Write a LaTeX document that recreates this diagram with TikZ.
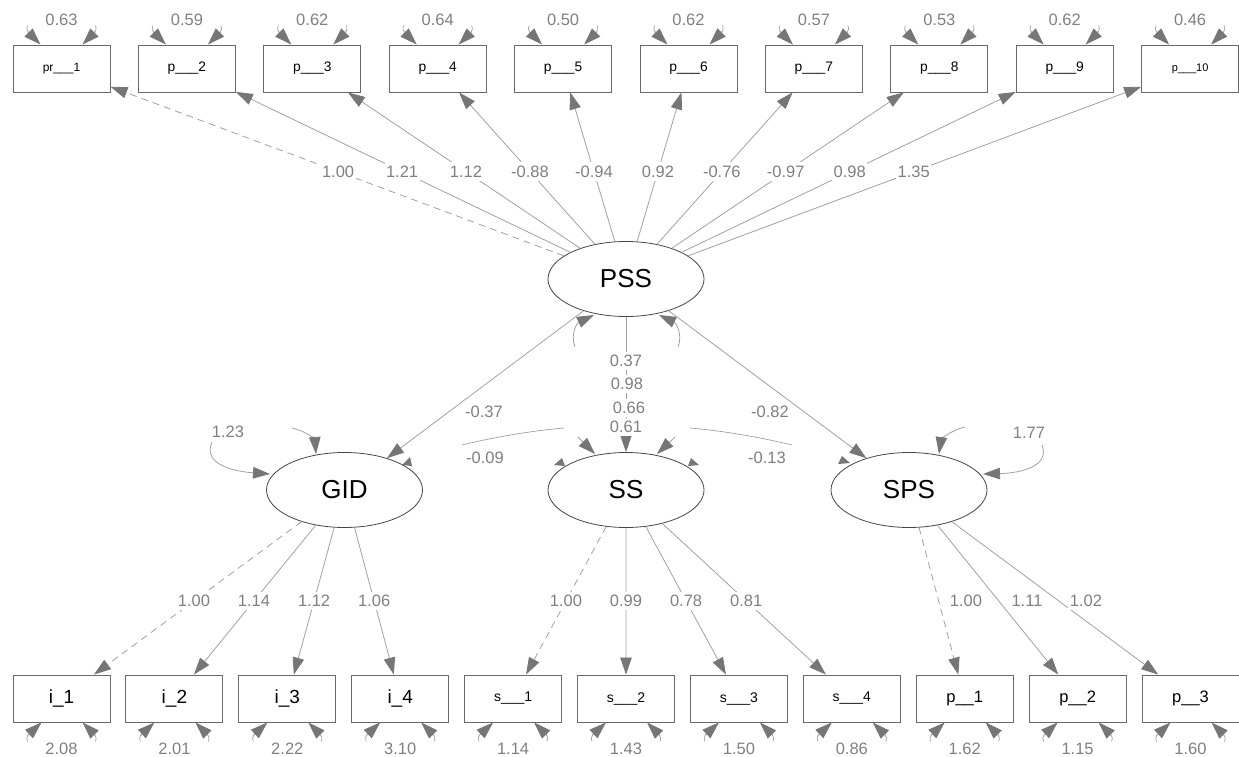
\documentclass[tikz,border=0pt]{standalone}
\usepackage{fontspec}
\setmainfont{Liberation Sans}
\usetikzlibrary{arrows.meta,calc,shapes.geometric}
\definecolor{edgegray}{RGB}{160,160,160}
\definecolor{tipgray}{RGB}{118,118,118}
\definecolor{numgray}{RGB}{128,128,128}
\definecolor{boxgray}{RGB}{105,105,105}
\definecolor{ellgray}{RGB}{70,70,70}
\newcommand{\fsz}[1]{\fontsize{#1}{#1}\selectfont}
\begin{document}
\begin{tikzpicture}[x=1pt,y=-1pt,
  obs/.style={draw=boxgray, line width=0.9pt, fill=white, minimum width=97pt, minimum height=47pt, inner sep=0pt},
  lat/.style={ellipse, draw=ellgray, line width=0.8pt, fill=white, minimum width=156pt, minimum height=75pt, inner sep=0pt, font=\fsz{26}},
  conn/.style={draw=edgegray, line width=0.8pt, -{Triangle[length=17pt,width=11.5pt,color=tipgray]}},
  dsh/.style={dash pattern=on 7pt off 5pt},
  num/.style={text=numgray, fill=white, inner xsep=1.5pt, inner ysep=3.5pt, font=\fsz{16.5}},
  vnum/.style={text=numgray, font=\fsz{16.5}},
  curl/.style={draw=edgegray, line width=0.7pt},
  ]
\useasboundingbox (0,0) rectangle (1239,757);

% visible ends of the covariance arrowheads tucked under the latent ellipses
\fill[tipgray] (402,465) -- (410,457) -- (412,466) -- cycle;
\fill[tipgray] (554,465) -- (562,458) -- (565,466) -- cycle;
\fill[tipgray] (688,466) -- (691,458) -- (699,465) -- cycle;
\fill[tipgray] (838,464) -- (842,456) -- (850,463) -- cycle;

% latent variables
\node[lat] (PSS) at (626,279) {PSS};
\node[lat] (GID) at (344.5,490) {GID};
\node[lat] (SS)  at (626,490) {SS};
\node[lat] (SPS) at (909,490) {SPS};

% indicators of PSS (top row)
\foreach \i/\lab/\fs in {1/pr\_\_\_1/12, 2/p\_\_\_2/13.8, 3/p\_\_\_3/13.8, 4/p\_\_\_4/13.8, 5/p\_\_\_5/13.8,
                         6/p\_\_\_6/13.8, 7/p\_\_\_7/13.8, 8/p\_\_\_8/13.8, 9/p\_\_\_9/13.8, 10/p\_\_\_10/11}
  \node[obs, font=\fsz{\fs}] (t\i) at ({61.5+125.4*(\i-1)},68.5) {\lab};

% indicators of GID, SS and SPS (bottom row)
\foreach \i/\lab/\fs in {1/i\_1/19, 2/i\_2/19, 3/i\_3/19, 4/i\_4/19,
                         5/s\_\_\_1/14, 6/s\_\_\_2/14, 7/s\_\_\_3/14, 8/s\_\_\_4/14,
                         9/p\_\_1/16.5, 10/p\_\_2/16.5, 11/p\_\_3/16.5}
  \node[obs, font=\fsz{\fs}] (b\i) at ({61.5+112.9*(\i-1)},698.5) {\lab};

% residual variances of the indicators
\foreach \i in {1,...,10}{
  \draw[conn] ($(t\i.north)+(-34,-13)$) -- ($(t\i.north)+(-21,0)$);
  \draw[conn] ($(t\i.north)+(34,-13)$) -- ($(t\i.north)+(21,0)$);
  \draw[curl] ($(t\i.north)+(-33,-12)$) .. controls +(-2,-3) .. +(-1,-7);
  \draw[curl] ($(t\i.north)+(33,-12)$) .. controls +(2,-3) .. +(1,-7);
}
\foreach \i in {1,...,11}{
  \draw[conn] ($(b\i.south)+(-34,13)$) -- ($(b\i.south)+(-20,0)$);
  \draw[conn] ($(b\i.south)+(34,13)$) -- ($(b\i.south)+(21,0)$);
  \draw[curl] ($(b\i.south)+(-33,12)$) .. controls +(-2,3) .. +(-1,7);
  \draw[curl] ($(b\i.south)+(33,12)$) .. controls +(2,3) .. +(1,7);
}

% loadings of PSS
\foreach \i/\st in {1/dsh, 2/solid, 3/solid, 4/solid, 5/solid, 6/solid, 7/solid, 8/solid, 9/solid, 10/solid}
  \draw[conn, \st] (PSS) -- (t\i);

% loadings of GID, SS, SPS
\draw[conn, dsh] (GID) -- (b1);
\foreach \i in {2,3,4} \draw[conn] (GID) -- (b\i);
\draw[conn, dsh] (SS) -- (b5);
\foreach \i in {6,7,8} \draw[conn] (SS) -- (b\i);
\draw[conn, dsh] (SPS) -- (b9);
\foreach \i in {10,11} \draw[conn] (SPS) -- (b\i);

% structural paths
\draw[conn] (PSS) -- (GID);
\draw[conn] (PSS) -- (SS);
\draw[conn] (PSS) -- (SPS);

% variance loops of the latents
\draw[conn] (575,347) .. controls (570,334) and (577,323) .. (594,315);
\draw[conn] (678,347) .. controls (683,334) and (676,323) .. (659,315);
\draw[conn] (212,442) .. controls (203,462) and (228,471) .. (270,474);
\draw[conn] (292,428) .. controls (306,431) and (315,440) .. (316,454);
\draw[conn] (965,427) .. controls (951,430) and (941,440) .. (939,454);
\draw[conn] (1042,445) .. controls (1050,466) and (1022,473) .. (983,474);
\draw[conn] (578,437) -- (595,454);
\draw[conn] (675,437) -- (657,454);

% covariance arcs between the latents
\draw[curl] (462,445) .. controls (495,437) and (530,431) .. (564,428);
\draw[curl] (690,428) .. controls (724,431) and (759,437) .. (792,445);

% loading labels
\foreach \i/\w in {1/1.00, 2/1.21, 3/1.12, 4/-0.88, 5/-0.94, 6/0.92, 7/-0.76, 8/-0.97, 9/0.98, 10/1.35}
  \node[num] at ($(PSS)!0.51!(t\i)$) {\w};
\foreach \i/\w in {1/1.00, 2/1.14, 3/1.12, 4/1.06}
  \node[num] at ($(GID)!0.532!(b\i)$) {\w};
\foreach \i/\w in {5/1.00, 6/0.99, 7/0.78, 8/0.81}
  \node[num] at ($(SS)!0.532!(b\i)$) {\w};
\node[num] at (966,601) {1.00};
\node[num] at (1027,601) {1.11};
\node[num] at (1086,601) {1.02};

% structural and covariance labels
\node[num] at (484,412) {-0.37};
\node[num] at (770,412) {-0.82};
\node[num] at (626,361) {0.37};
\node[num] at (627,384) {0.98};
\node[num] at (629,408) {0.66};
\node[num] at (626,427) {0.61};
\node[num] at (485,458) {-0.09};
\node[num] at (767,458) {-0.13};
\node[vnum] at (228,432) {1.23};
\node[vnum] at (1029,433) {1.77};

% residual variance labels
\foreach \i/\v in {1/0.63, 2/0.59, 3/0.62, 4/0.64, 5/0.50, 6/0.62, 7/0.57, 8/0.53, 9/0.62, 10/0.46}
  \node[vnum] at ($(t\i.north)+(0,-25)$) {\v};
\foreach \i/\v in {1/2.08, 2/2.01, 3/2.22, 4/3.10, 5/1.14, 6/1.43, 7/1.50, 8/0.86, 9/1.62, 10/1.15, 11/1.60}
  \node[vnum] at ($(b\i.south)+(0,26)$) {\v};
\end{tikzpicture}
\end{document}
